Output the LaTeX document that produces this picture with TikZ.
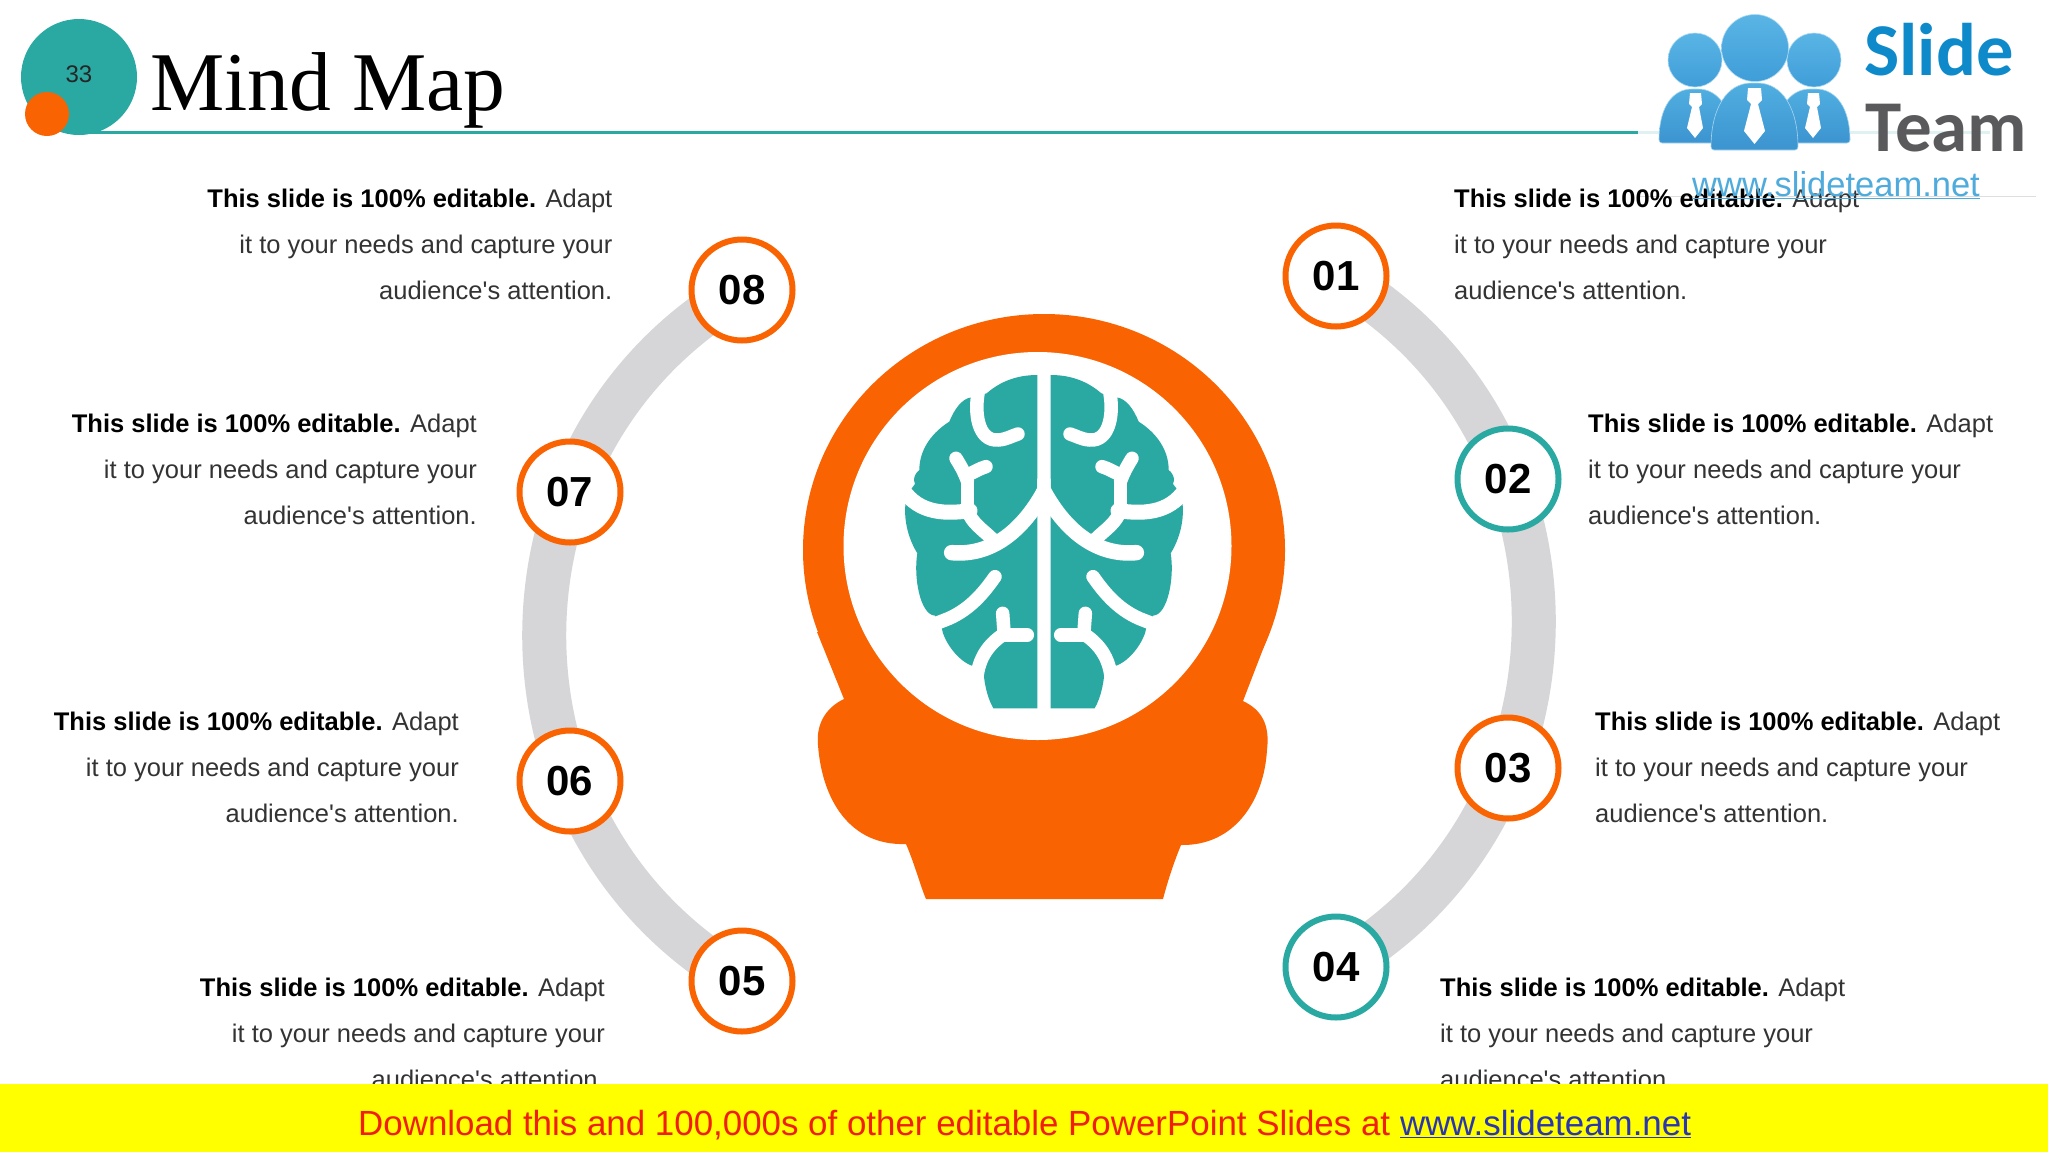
\documentclass[tikz,border=0pt]{standalone}
\usepackage{fontspec}
\usetikzlibrary{backgrounds}
\setmainfont{Liberation Sans}
\newfontfamily\bodyfont{Liberation Sans}
\newfontfamily\titlefont{Liberation Serif}
\newfontfamily\logofont{Carlito}
\definecolor{orangeM}{HTML}{F96302}
\definecolor{tealM}{HTML}{2AA9A2}
\definecolor{grayArc}{HTML}{D6D5D8}
\definecolor{bodyText}{HTML}{333333}
\definecolor{headTop}{HTML}{5AB5E5}
\definecolor{headBot}{HTML}{3F9DD8}
\definecolor{bodyTop}{HTML}{50AEE0}
\definecolor{bodyBot}{HTML}{3C94D0}
\definecolor{logoLink}{HTML}{4FABDC}
\definecolor{slideBlue}{HTML}{0E8ACB}
\definecolor{teamGray}{HTML}{5A5A5C}
\definecolor{bannerYellow}{HTML}{FFFF00}
\definecolor{bannerRed}{HTML}{F01E0A}
\definecolor{bannerBlue}{HTML}{2A35B0}
\newcommand{\blocktext}{\textcolor{black}{\bfseries This slide is 100\% editable.} Adapt\\it to your needs and capture your\\audience's attention.}
\newcommand{\brainhalf}{%
  \fill[tealM] (472,45) .. controls (410,45) and (360,65) .. (320,100)
    -- (275,112) .. controls (245,115) and (222,150) .. (208,185)
    .. controls (160,215) and (118,265) .. (118,330)
    .. controls (100,345) and (100,360) .. (105,372)
    -- (82,402) .. controls (68,450) and (75,520) .. (112,580)
    .. controls (100,650) and (120,765) .. (165,767)
    -- (185,803) .. controls (190,840) and (230,900) .. (275,917)
    -- (310,915) .. controls (310,960) and (320,1010) .. (340,1045)
    -- (472,1045) -- cycle;
  \draw[groove] (297,85) .. controls (280,160) and (295,245) .. (355,240) .. controls (380,238) and (395,228) .. (414,222);
  \draw[groove,line width=15pt] (60,375) .. controls (105,455) and (180,465) .. (270,452);
  \draw[groove] (262,450) .. controls (275,490) and (310,510) .. (340,540);
  \draw[groove] (262,450) -- (262,362);
  \draw[groove] (262,362) .. controls (250,330) and (240,315) .. (228,295);
  \draw[groove] (262,345) .. controls (285,335) and (300,325) .. (318,320);
  \draw[groove,line width=15.5pt] (492,395) .. controls (440,490) and (350,590) .. (215,578);
  \fill[white] (472,355) -- (492,395) -- (512,355) -- (512,450) -- (472,450) -- cycle;
  \draw[groove] (345,650) .. controls (310,700) and (265,755) .. (190,782) -- (130,805);
  \draw[groove] (368,760) -- (372,815);
  \draw[groove] (372,825) -- (442,825);
  \draw[groove] (372,822) .. controls (330,850) and (295,890) .. (290,960);
}
\tikzset{
  numring/.style={circle,draw=orangeM,fill=white,line width=6pt,minimum size=101pt,inner sep=0pt,font=\fontsize{42}{42}\selectfont\bfseries,text=black},
  tealring/.style={numring,draw=tealM},
  arcband/.style={draw=grayArc,line width=44pt,looseness=1.13},
  leftblock/.style={anchor=north east,inner sep=0pt,align=right,text=bodyText,font=\bodyfont\fontsize{25.5}{46}\selectfont},
  rightblock/.style={anchor=north west,inner sep=0pt,align=left,text=bodyText,font=\bodyfont\fontsize{25.5}{46}\selectfont},
  groove/.style={draw=white,line width=13.5pt,line cap=round,line join=round},
  logobody/.style={top color=bodyTop,bottom color=bodyBot,draw=bodyTop!50!white,line width=.6pt,rounded corners=3pt},
  logohead/.style={top color=headTop,bottom color=headBot,draw=headTop!50!white,line width=.6pt},
  logotie/.style={fill=white},
}
\begin{document}
\begin{tikzpicture}[x=1pt,y=-1pt]
\useasboundingbox (0,0) rectangle (2048,1152);
% header
\draw[tealM,line width=3pt] (80,132.5) -- (1990,132.5);
\fill[white,opacity=.85] (1638,0) rectangle (2036,196);
\draw[black!13,line width=1pt] (1640,196) -- (2036,196);
\node[circle,fill=tealM,minimum size=116pt,inner sep=0pt,font=\fontsize{24}{24}\selectfont,text=black!85] (badge) at (79,77) {\raisebox{6pt}{33}};
\node[circle,fill=orangeM,minimum size=44pt,inner sep=0pt] (dot) at (47,114) {};
\node[anchor=base west,inner sep=0pt,font=\titlefont\fontsize{83.5}{84}\selectfont,text=black] (title) at (150,110) {Mind Map};
% numbered rings
\node[numring] (n01) at (1336,276) {01};
\node[tealring] (n02) at (1508,479) {02};
\node[numring] (n03) at (1508,768) {03};
\node[tealring] (n04) at (1336,967) {04};
\node[numring] (n05) at (742,981) {05};
\node[numring] (n06) at (570,781) {06};
\node[numring] (n07) at (570,492) {07};
\node[numring] (n08) at (742,290) {08};
\begin{scope}[on background layer]
\fill[white] (0,0) rectangle (2048,1152);
\draw[arcband] (n01.center) to[bend left=60] (n04.center);
\draw[arcband] (n08.center) to[bend right=60] (n05.center);
\end{scope}
% head
\fill[orangeM] (1044,550) ellipse [x radius=241,y radius=236];
\fill[orangeM] (817,632) -- (844,699)
  .. controls (825,708) and (816,725) .. (818,745)
  .. controls (822,800) and (850,846) .. (906,844)
  .. controls (915,865) and (920,885) .. (926,899)
  -- (1163,899)
  .. controls (1168,880) and (1174,862) .. (1181,845)
  .. controls (1235,846) and (1264,800) .. (1267,750)
  .. controls (1270,725) and (1262,710) .. (1243,701)
  -- (1270,631) -- cycle;
\fill[white] (1037.5,546) circle [radius=194];
\begin{scope}[shift={(880,360)},x=.3333pt,y=-.3333pt]
\brainhalf
\end{scope}
\begin{scope}[shift={(1208,360)},x=-.3333pt,y=-.3333pt]
\brainhalf
\end{scope}
% text blocks
\node[leftblock] (t8) at (612.5,188.5) {\blocktext};
\node[leftblock] (t7) at (477,413.5) {\blocktext};
\node[leftblock] (t6) at (459,711.5) {\blocktext};
\node[leftblock] (t5) at (605,977.5) {\blocktext};
\node[rightblock] (t1) at (1454,188.5) {\blocktext};
\node[rightblock] (t2) at (1588,413.5) {\blocktext};
\node[rightblock] (t3) at (1595,711.5) {\blocktext};
\node[rightblock] (t4) at (1440,977.5) {\blocktext};
% logo
\shade[logobody] (1659,143) .. controls (1659,108) and (1672,89) .. (1695,89) .. controls (1718,89) and (1732,108) .. (1732,143) -- cycle;
\shade[logobody] (1776,143) .. controls (1776,108) and (1790,89) .. (1813,89) .. controls (1836,89) and (1850,108) .. (1850,143) -- cycle;
\fill[logotie] (1690,93) -- (1701,93) -- (1702,104) -- (1699,107) -- (1703,128) -- (1695,138) -- (1687,128) -- (1692,107) -- (1689,104) -- cycle;
\fill[logotie] (1808,93) -- (1819,93) -- (1820,104) -- (1817,107) -- (1821,128) -- (1813,138) -- (1805,128) -- (1810,107) -- (1807,104) -- cycle;
\shade[logobody] (1711,150) .. controls (1711,108) and (1727,83) .. (1754.5,83) .. controls (1782,83) and (1798,108) .. (1798,150) -- cycle;
\fill[logotie] (1748,88) -- (1761,88) -- (1762,100) -- (1758,104) -- (1765,131) -- (1754.5,144) -- (1744,131) -- (1751,104) -- (1747,100) -- cycle;
\shade[logohead] (1695,60) circle [radius=27];
\shade[logohead] (1814,60) circle [radius=27];
\shade[logohead] (1755,48) circle [radius=33.5];
\node[anchor=base west,inner sep=0pt,font=\logofont\bfseries\fontsize{74.5}{76}\selectfont,text=slideBlue] (slide) at (1864,75) {Slide};
\node[anchor=base west,inner sep=0pt,font=\logofont\bfseries\fontsize{73}{76}\selectfont,text=teamGray] (team) at (1865,151) {Team};
\node[anchor=base west,inner sep=0pt,font=\fontsize{34.5}{34.5}\selectfont,text=logoLink] (www) at (1692,196) {\underline{www.slideteam.net}};
% banner
\fill[bannerYellow] (0,1084) rectangle (2048,1152);
\node[anchor=base west,inner sep=0pt,font=\fontsize{34.9}{34.9}\selectfont,text=bannerRed] (promo) at (358,1135) {Download this and 100,000s of other editable PowerPoint Slides at \textcolor{bannerBlue}{\underline{www.slideteam.net}}};
\end{tikzpicture}
\end{document}
